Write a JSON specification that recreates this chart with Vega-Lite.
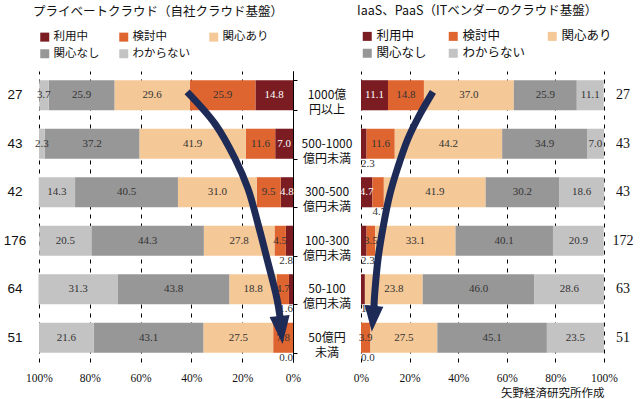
{
  "$schema": "https://vega.github.io/schema/vega-lite/v6.json",
  "background": "white",
  "padding": {"left": 0, "top": 4, "right": 0, "bottom": 0},
  "config": {"view": {"stroke": null}, "font": "Noto Sans CJK JP"},
  "datasets": {
    "survey": [
      {"p": "L", "size": "1000億\n円以上", "n": 27, "status": "利用中", "value": 14.8},
      {"p": "L", "size": "1000億\n円以上", "n": 27, "status": "検討中", "value": 25.9},
      {"p": "L", "size": "1000億\n円以上", "n": 27, "status": "関心あり", "value": 29.6},
      {"p": "L", "size": "1000億\n円以上", "n": 27, "status": "関心なし", "value": 25.9},
      {"p": "L", "size": "1000億\n円以上", "n": 27, "status": "わからない", "value": 3.7},
      {"p": "L", "size": "500-1000\n億円未満", "n": 43, "status": "利用中", "value": 7.0},
      {"p": "L", "size": "500-1000\n億円未満", "n": 43, "status": "検討中", "value": 11.6},
      {"p": "L", "size": "500-1000\n億円未満", "n": 43, "status": "関心あり", "value": 41.9},
      {"p": "L", "size": "500-1000\n億円未満", "n": 43, "status": "関心なし", "value": 37.2},
      {"p": "L", "size": "500-1000\n億円未満", "n": 43, "status": "わからない", "value": 2.3},
      {"p": "L", "size": "300-500\n億円未満", "n": 42, "status": "利用中", "value": 4.8},
      {"p": "L", "size": "300-500\n億円未満", "n": 42, "status": "検討中", "value": 9.5},
      {"p": "L", "size": "300-500\n億円未満", "n": 42, "status": "関心あり", "value": 31.0},
      {"p": "L", "size": "300-500\n億円未満", "n": 42, "status": "関心なし", "value": 40.5},
      {"p": "L", "size": "300-500\n億円未満", "n": 42, "status": "わからない", "value": 14.3},
      {"p": "L", "size": "100-300\n億円未満", "n": 176, "status": "利用中", "value": 2.8},
      {"p": "L", "size": "100-300\n億円未満", "n": 176, "status": "検討中", "value": 4.5},
      {"p": "L", "size": "100-300\n億円未満", "n": 176, "status": "関心あり", "value": 27.8},
      {"p": "L", "size": "100-300\n億円未満", "n": 176, "status": "関心なし", "value": 44.3},
      {"p": "L", "size": "100-300\n億円未満", "n": 176, "status": "わからない", "value": 20.5},
      {"p": "L", "size": "50-100\n億円未満", "n": 64, "status": "利用中", "value": 1.6},
      {"p": "L", "size": "50-100\n億円未満", "n": 64, "status": "検討中", "value": 4.7},
      {"p": "L", "size": "50-100\n億円未満", "n": 64, "status": "関心あり", "value": 18.8},
      {"p": "L", "size": "50-100\n億円未満", "n": 64, "status": "関心なし", "value": 43.8},
      {"p": "L", "size": "50-100\n億円未満", "n": 64, "status": "わからない", "value": 31.3},
      {"p": "L", "size": "50億円\n未満", "n": 51, "status": "利用中", "value": 0.0},
      {"p": "L", "size": "50億円\n未満", "n": 51, "status": "検討中", "value": 7.8},
      {"p": "L", "size": "50億円\n未満", "n": 51, "status": "関心あり", "value": 27.5},
      {"p": "L", "size": "50億円\n未満", "n": 51, "status": "関心なし", "value": 43.1},
      {"p": "L", "size": "50億円\n未満", "n": 51, "status": "わからない", "value": 21.6},
      {"p": "R", "size": "1000億\n円以上", "n": 27, "status": "利用中", "value": 11.1},
      {"p": "R", "size": "1000億\n円以上", "n": 27, "status": "検討中", "value": 14.8},
      {"p": "R", "size": "1000億\n円以上", "n": 27, "status": "関心あり", "value": 37.0},
      {"p": "R", "size": "1000億\n円以上", "n": 27, "status": "関心なし", "value": 25.9},
      {"p": "R", "size": "1000億\n円以上", "n": 27, "status": "わからない", "value": 11.1},
      {"p": "R", "size": "500-1000\n億円未満", "n": 43, "status": "利用中", "value": 2.3},
      {"p": "R", "size": "500-1000\n億円未満", "n": 43, "status": "検討中", "value": 11.6},
      {"p": "R", "size": "500-1000\n億円未満", "n": 43, "status": "関心あり", "value": 44.2},
      {"p": "R", "size": "500-1000\n億円未満", "n": 43, "status": "関心なし", "value": 34.9},
      {"p": "R", "size": "500-1000\n億円未満", "n": 43, "status": "わからない", "value": 7.0},
      {"p": "R", "size": "300-500\n億円未満", "n": 43, "status": "利用中", "value": 4.7},
      {"p": "R", "size": "300-500\n億円未満", "n": 43, "status": "検討中", "value": 4.7},
      {"p": "R", "size": "300-500\n億円未満", "n": 43, "status": "関心あり", "value": 41.9},
      {"p": "R", "size": "300-500\n億円未満", "n": 43, "status": "関心なし", "value": 30.2},
      {"p": "R", "size": "300-500\n億円未満", "n": 43, "status": "わからない", "value": 18.6},
      {"p": "R", "size": "100-300\n億円未満", "n": 172, "status": "利用中", "value": 2.3},
      {"p": "R", "size": "100-300\n億円未満", "n": 172, "status": "検討中", "value": 3.5},
      {"p": "R", "size": "100-300\n億円未満", "n": 172, "status": "関心あり", "value": 33.1},
      {"p": "R", "size": "100-300\n億円未満", "n": 172, "status": "関心なし", "value": 40.1},
      {"p": "R", "size": "100-300\n億円未満", "n": 172, "status": "わからない", "value": 20.9},
      {"p": "R", "size": "50-100\n億円未満", "n": 63, "status": "利用中", "value": 1.6},
      {"p": "R", "size": "50-100\n億円未満", "n": 63, "status": "検討中", "value": 0.0},
      {"p": "R", "size": "50-100\n億円未満", "n": 63, "status": "関心あり", "value": 23.8},
      {"p": "R", "size": "50-100\n億円未満", "n": 63, "status": "関心なし", "value": 46.0},
      {"p": "R", "size": "50-100\n億円未満", "n": 63, "status": "わからない", "value": 28.6},
      {"p": "R", "size": "50億円\n未満", "n": 51, "status": "利用中", "value": 0.0},
      {"p": "R", "size": "50億円\n未満", "n": 51, "status": "検討中", "value": 3.9},
      {"p": "R", "size": "50億円\n未満", "n": 51, "status": "関心あり", "value": 27.5},
      {"p": "R", "size": "50億円\n未満", "n": 51, "status": "関心なし", "value": 45.1},
      {"p": "R", "size": "50億円\n未満", "n": 51, "status": "わからない", "value": 23.5}
    ]
  },
  "bounds": "flush",
  "spacing": 9,
  "resolve": {"scale": {"color": "independent"}, "legend": {"color": "independent"}},
  "hconcat": [
    {
      "width": 30,
      "height": 291,
      "data": {"name": "survey"},
      "transform": [{"filter": "datum.p == 'L' && datum.status == '利用中'"}],
      "mark": {"type": "text", "font": "Liberation Sans", "fontSize": 13.5, "color": "#111", "baseline": "middle"},
      "encoding": {
        "y": {"field": "size", "type": "nominal", "sort": null, "axis": null, "scale": {"paddingInner": 0.38, "paddingOuter": 0.19}},
        "text": {"field": "n", "type": "quantitative"}
      }
    },
    {
      "width": 254,
      "height": 291,
      "title": {"text": "プライベートクラウド（自社クラウド基盤）", "anchor": "start", "frame": "group", "dx": -6, "fontSize": 12.5, "fontWeight": "normal", "font": "Noto Sans CJK JP", "color": "#111", "offset": 13},
      "resolve": {"scale": {"y": "independent"}},
      "layer": [
        {
          "data": {"name": "survey"},
          "transform": [
            {"filter": "datum.p == 'L'"},
            {"calculate": "indexof(['利用中','検討中','関心あり','関心なし','わからない'], datum.status)", "as": "ord"},
            {"stack": "value", "groupby": ["size"], "sort": [{"field": "ord", "order": "ascending"}], "as": ["v0", "v1"]},
            {"calculate": "(datum.v0 + datum.v1) / 2", "as": "mid"}
          ],
          "encoding": {
            "y": {"field": "size", "type": "nominal", "sort": null, "scale": {"paddingInner": 0.38, "paddingOuter": 0.19},
              "axis": {"orient": "right", "labels": false, "title": null, "ticks": true, "tickBand": "extent", "tickSize": 4, "domain": true, "domainColor": "#000", "tickColor": "#000", "grid": false}}
          },
          "layer": [
            {
              "mark": {"type": "bar"},
              "encoding": {
                "x": {"field": "v0", "type": "quantitative", "scale": {"domain": [0, 100], "reverse": true, "nice": false},
                  "axis": {"values": [0, 20, 40, 60, 80, 100], "labelExpr": "datum.value + '%'", "title": null, "domain": false, "ticks": false, "grid": true, "gridDash": [4, 5], "gridColor": "#000", "gridOpacity": 1, "labelFont": "Liberation Serif", "labelFontSize": 11.5, "labelColor": "#111", "labelPadding": 10, "labelFlush": false}},
                "x2": {"field": "v1"},
                "color": {"field": "status", "type": "nominal",
                  "scale": {"domain": ["利用中", "検討中", "関心あり", "関心なし", "わからない"], "range": ["#7a1c22", "#df6530", "#f4c897", "#979797", "#c3c3c3"]},
                  "legend": {"orient": "top", "title": null, "columns": 3, "symbolType": "square", "symbolSize": 81, "symbolStrokeWidth": 0, "labelFontSize": 11.5, "labelFont": "Noto Sans CJK JP", "labelColor": "#111", "columnPadding": 18, "rowPadding": 4, "labelOffset": 3, "offset": 11}}
              }
            },
            {
              "transform": [{"filter": "!(datum.value < 3 && datum.status != 'わからない') && !(datum.status == '検討中' && datum.value < 5 && datum.v0 > 4)"}],
              "mark": {"type": "text", "font": "Liberation Serif", "fontSize": 11, "baseline": "middle", "align": "center"},
              "encoding": {
                "x": {"field": "mid", "type": "quantitative"},
                "text": {"field": "value", "type": "quantitative", "format": ".1f"},
                "color": {"condition": {"test": "datum.status == '利用中'", "value": "#ffffff"}, "value": "#333333"}
              }
            },
            {
              "transform": [{"filter": "(datum.value < 3 && datum.status != 'わからない') || (datum.status == '検討中' && datum.value < 5 && datum.v0 > 4)"}],
              "mark": {"type": "text", "font": "Liberation Serif", "fontSize": 11, "baseline": "middle", "align": "right", "dy": 20, "color": "#333333"},
              "encoding": {
                "x": {"field": "v0", "type": "quantitative"},
                "text": {"field": "value", "type": "quantitative", "format": ".1f"}
              }
            }
          ]
        },
        {
          "data": {"values": [
            {"ax": 41.7, "ay": 0.43}, {"ax": 30.7, "ay": 1.09}, {"ax": 22.8, "ay": 1.81}, {"ax": 17.7, "ay": 2.43},
            {"ax": 13.8, "ay": 3.15}, {"ax": 10.2, "ay": 3.88}, {"ax": 6.3, "ay": 4.7}, {"ax": 5.1, "ay": 5.07}
          ]},
          "mark": {"type": "line", "color": "#1f2b57", "strokeWidth": 7, "interpolate": "catmull-rom", "strokeCap": "butt"},
          "encoding": {
            "x": {"field": "ax", "type": "quantitative"},
            "y": {"field": "ay", "type": "quantitative", "scale": {"domain": [0, 6], "reverse": true, "nice": false, "zero": false}, "axis": null},
            "order": {"field": "ay", "type": "quantitative"}
          }
        },
        {
          "data": {"values": [{"ax": 4.7, "ay": 5.34}]},
          "mark": {"type": "point", "shape": "M-0.72,-1L0.72,-1L0,1Z", "size": 784, "filled": true, "opacity": 1, "color": "#1f2b57", "angle": 354, "strokeWidth": 0},
          "encoding": {
            "x": {"field": "ax", "type": "quantitative"},
            "y": {"field": "ay", "type": "quantitative", "scale": {"domain": [0, 6], "reverse": true, "nice": false, "zero": false}, "axis": null}
          }
        }
      ]
    },
    {
      "width": 50,
      "height": 291,
      "data": {"name": "survey"},
      "transform": [{"filter": "datum.p == 'L' && datum.status == '利用中'"}],
      "mark": {"type": "text", "font": "Noto Sans CJK JP", "fontSize": 12, "color": "#111", "baseline": "middle", "lineBreak": "\n", "lineHeight": 15},
      "encoding": {
        "y": {"field": "size", "type": "nominal", "sort": null, "axis": null, "scale": {"paddingInner": 0.38, "paddingOuter": 0.19}},
        "text": {"field": "size", "type": "nominal"}
      }
    },
    {
      "width": 243,
      "height": 291,
      "title": {"text": "IaaS、PaaS（ITベンダーのクラウド基盤）", "anchor": "start", "frame": "group", "dx": -4, "fontSize": 12.5, "fontWeight": "normal", "font": "Noto Sans CJK JP", "color": "#111", "offset": 13},
      "resolve": {"scale": {"y": "independent"}},
      "layer": [
        {
          "data": {"name": "survey"},
          "transform": [
            {"filter": "datum.p == 'R'"},
            {"calculate": "indexof(['利用中','検討中','関心あり','関心なし','わからない'], datum.status)", "as": "ord"},
            {"stack": "value", "groupby": ["size"], "sort": [{"field": "ord", "order": "ascending"}], "as": ["v0", "v1"]},
            {"calculate": "(datum.v0 + datum.v1) / 2", "as": "mid"}
          ],
          "encoding": {
            "y": {"field": "size", "type": "nominal", "sort": null, "scale": {"paddingInner": 0.38, "paddingOuter": 0.19}, "axis": null}
          },
          "layer": [
            {
              "mark": {"type": "bar"},
              "encoding": {
                "x": {"field": "v0", "type": "quantitative", "scale": {"domain": [0, 100], "nice": false},
                  "axis": {"values": [0, 20, 40, 60, 80, 100], "labelExpr": "datum.value + '%'", "title": "矢野経済研究所作成", "titleAnchor": "end", "titleFont": "Noto Sans CJK JP", "titleFontSize": 11.5, "titleFontWeight": "normal", "titleColor": "#111", "titlePadding": 4, "domain": false, "ticks": false, "grid": true, "gridDash": [4, 5], "gridColor": "#000", "gridOpacity": 1, "labelFont": "Liberation Serif", "labelFontSize": 11.5, "labelColor": "#111", "labelPadding": 10, "labelFlush": false}},
                "x2": {"field": "v1"},
                "color": {"field": "status", "type": "nominal",
                  "scale": {"domain": ["利用中", "検討中", "関心あり", "関心なし", "わからない"], "range": ["#7a1c22", "#df6530", "#f4c897", "#979797", "#c3c3c3"]},
                  "legend": {"orient": "top", "title": null, "columns": 3, "symbolType": "square", "symbolSize": 81, "symbolStrokeWidth": 0, "labelFontSize": 12.5, "labelFont": "Noto Sans CJK JP", "labelColor": "#111", "columnPadding": 20, "rowPadding": 4, "labelOffset": 3, "offset": 11}}
              }
            },
            {
              "transform": [{"filter": "!(datum.value < 3 && datum.status != 'わからない') && !(datum.status == '検討中' && datum.value < 5 && datum.v0 > 4)"}],
              "mark": {"type": "text", "font": "Liberation Serif", "fontSize": 11, "baseline": "middle", "align": "center"},
              "encoding": {
                "x": {"field": "mid", "type": "quantitative"},
                "text": {"field": "value", "type": "quantitative", "format": ".1f"},
                "color": {"condition": {"test": "datum.status == '利用中'", "value": "#ffffff"}, "value": "#333333"}
              }
            },
            {
              "transform": [{"filter": "(datum.value < 3 && datum.status != 'わからない') || (datum.status == '検討中' && datum.value < 5 && datum.v0 > 4)"}],
              "mark": {"type": "text", "font": "Liberation Serif", "fontSize": 11, "baseline": "middle", "align": "left", "dy": 20, "color": "#333333"},
              "encoding": {
                "x": {"field": "v0", "type": "quantitative"},
                "text": {"field": "value", "type": "quantitative", "format": ".1f"}
              }
            }
          ]
        },
        {
          "data": {"values": [
            {"ax": 29.6, "ay": 0.43}, {"ax": 24.3, "ay": 0.89}, {"ax": 19.3, "ay": 1.4}, {"ax": 15.2, "ay": 1.98},
            {"ax": 11.9, "ay": 2.54}, {"ax": 9.1, "ay": 3.22}, {"ax": 7.0, "ay": 3.88}, {"ax": 5.8, "ay": 4.49}, {"ax": 5.3, "ay": 4.87}
          ]},
          "mark": {"type": "line", "color": "#1f2b57", "strokeWidth": 7, "interpolate": "catmull-rom", "strokeCap": "butt"},
          "encoding": {
            "x": {"field": "ax", "type": "quantitative"},
            "y": {"field": "ay", "type": "quantitative", "scale": {"domain": [0, 6], "reverse": true, "nice": false, "zero": false}, "axis": null},
            "order": {"field": "ay", "type": "quantitative"}
          }
        },
        {
          "data": {"values": [{"ax": 4.9, "ay": 5.11}]},
          "mark": {"type": "point", "shape": "M-0.72,-1L0.72,-1L0,1Z", "size": 676, "filled": true, "opacity": 1, "color": "#1f2b57", "angle": 5, "strokeWidth": 0},
          "encoding": {
            "x": {"field": "ax", "type": "quantitative"},
            "y": {"field": "ay", "type": "quantitative", "scale": {"domain": [0, 6], "reverse": true, "nice": false, "zero": false}, "axis": null}
          }
        }
      ]
    },
    {
      "width": 20,
      "height": 291,
      "data": {"name": "survey"},
      "transform": [{"filter": "datum.p == 'R' && datum.status == '利用中'"}],
      "mark": {"type": "text", "font": "Liberation Serif", "fontSize": 14, "color": "#111", "baseline": "middle"},
      "encoding": {
        "y": {"field": "size", "type": "nominal", "sort": null, "axis": null, "scale": {"paddingInner": 0.38, "paddingOuter": 0.19}},
        "text": {"field": "n", "type": "quantitative"}
      }
    }
  ]
}
